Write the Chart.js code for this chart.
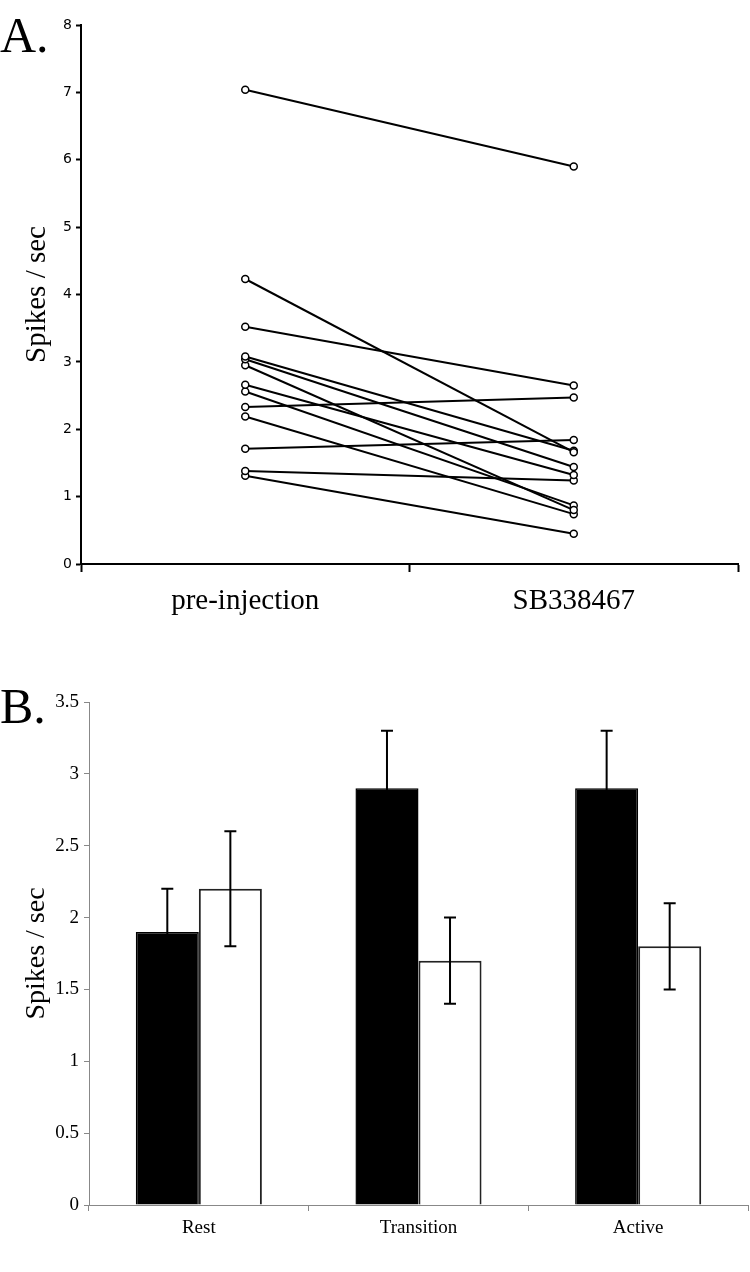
<!DOCTYPE html>
<html>
<head>
<meta charset="utf-8">
<script src="https://cdn.jsdelivr.net/npm/chart.js@4/dist/chart.umd.min.js"></script>
<style>
  body { margin: 0; background: #fff; width: 750px; height: 1272px; position: relative; overflow: hidden; }
  .panel { position: absolute; left: 0; width: 750px; }
  #boxA { top: 0; height: 640px; }
  #boxB { top: 640px; height: 632px; }
  .tag { position: absolute; left: 0; font-family: "Liberation Serif", serif; font-size: 50px; line-height: 1; color: #000; }
</style>
</head>
<body>
<div class="tag" style="top:10px">A.</div>
<div class="tag" style="top:681px">B.</div>
<div class="panel" id="boxA"><canvas id="chartA"></canvas></div>
<div class="panel" id="boxB"><canvas id="chartB"></canvas></div>
<script>
// panel A: paired firing rates per neuron
var conditions = ['pre-injection', 'SB338467'];
var preInjection = [7.04, 4.23, 3.52, 3.08, 3.04, 2.95, 2.66, 2.56, 2.33, 2.19, 1.71, 1.38, 1.31];
var sb338467 = [5.90, 1.66, 2.65, 1.68, 1.44, 0.80, 1.32, 0.87, 2.47, 0.74, 1.84, 1.24, 0.45];

// panel B: group means with error bars
var states = ['Rest', 'Transition', 'Active'];
var preMeans = [1.9, 2.9, 2.9];
var preErrors = [0.3, 0.4, 0.4];
var drugMeans = [2.2, 1.7, 1.8];
var drugErrors = [0.4, 0.3, 0.3];

var serif = '"Liberation Serif", "Times New Roman", serif';

var cellDatasets = [];
for (var i = 0; i < preInjection.length; i++) {
    cellDatasets.push({
        label: 'cell ' + (i + 1),
        data: [preInjection[i], sb338467[i]],
        borderColor: '#000',
        borderWidth: 2,
        pointRadius: 3.5,
        pointBorderWidth: 1.5,
        pointBackgroundColor: '#fff',
        pointBorderColor: '#000',
        tension: 0
    });
}

new Chart(document.getElementById('chartA'), {
    type: 'line',
    data: { labels: conditions, datasets: cellDatasets },
    options: {
        responsive: true,
        maintainAspectRatio: false,
        animation: false,
        layout: { padding: { top: 25, right: 12, bottom: 16, left: 0 } },
        plugins: { legend: { display: false }, tooltip: { enabled: false } },
        scales: {
            x: {
                offset: true,
                grid: { offset: true, drawOnChartArea: false, tickLength: 8, tickColor: '#000', tickWidth: 2 },
                border: { color: '#000', width: 2 },
                ticks: { color: '#000', padding: 12, font: { family: serif, size: 29 } },
                afterFit: function(s) { s.height = 60; }
            },
            y: {
                min: 0,
                max: 8,
                ticks: { stepSize: 1, color: '#000', padding: 4, font: { family: '"DejaVu Sans", sans-serif', size: 14 } },
                grid: { drawOnChartArea: false, tickLength: 5, tickColor: '#000', tickWidth: 2 },
                border: { color: '#000', width: 2 },
                title: { display: true, text: 'Spikes / sec', color: '#000', padding: { top: 20, bottom: 0 }, font: { family: serif, size: 29 } },
                afterFit: function(s) { s.width = 81; }
            }
        }
    }
});

var errorBars = {
    id: 'errorBars',
    afterDatasetsDraw: function(chart) {
        var ctx = chart.ctx;
        var yScale = chart.scales.y;
        chart.data.datasets.forEach(function(ds, i) {
            var meta = chart.getDatasetMeta(i);
            meta.data.forEach(function(bar, j) {
                var top = yScale.getPixelForValue(ds.data[j] + ds.errors[j]);
                var bottom = yScale.getPixelForValue(ds.data[j] - ds.errors[j]);
                ctx.save();
                ctx.strokeStyle = '#000';
                ctx.lineWidth = 2;
                ctx.beginPath();
                ctx.moveTo(bar.x, top); ctx.lineTo(bar.x, bottom);
                ctx.moveTo(bar.x - 6, top); ctx.lineTo(bar.x + 6, top);
                ctx.moveTo(bar.x - 6, bottom); ctx.lineTo(bar.x + 6, bottom);
                ctx.stroke();
                ctx.restore();
            });
        });
    }
};

new Chart(document.getElementById('chartB'), {
    type: 'bar',
    data: {
        labels: states,
        datasets: [
            { label: 'pre-injection', data: preMeans, errors: preErrors, backgroundColor: '#000', borderColor: '#000', borderWidth: 1.5 },
            { label: 'SB338467', data: drugMeans, errors: drugErrors, backgroundColor: '#fff', borderColor: '#222', borderWidth: 2 }
        ]
    },
    plugins: [errorBars],
    options: {
        responsive: true,
        maintainAspectRatio: false,
        animation: false,
        categoryPercentage: 0.574,
        barPercentage: 1,
        layout: { padding: { top: 62, right: 2, bottom: 0, left: 0 } },
        plugins: { legend: { display: false }, tooltip: { enabled: false } },
        scales: {
            x: {
                grid: { drawOnChartArea: false, tickLength: 6, tickColor: '#888' },
                border: { color: '#888', width: 1 },
                ticks: { color: '#000', padding: 6, font: { family: serif, size: 19 } },
                afterFit: function(s) { s.height = 67; }
            },
            y: {
                min: 0,
                max: 3.5,
                ticks: {
                    stepSize: 0.5,
                    color: '#000',
                    padding: 5,
                    font: { family: serif, size: 19 },
                    callback: function(value) { return String(Math.round(value * 10) / 10); }
                },
                grid: { drawOnChartArea: false, tickLength: 5, tickColor: '#888' },
                border: { color: '#888', width: 1 },
                title: { display: true, text: 'Spikes / sec', color: '#000', padding: { top: 20, bottom: 0 }, font: { family: serif, size: 28 } },
                afterFit: function(s) { s.width = 89; }
            }
        }
    }
});
</script>
</body>
</html>
